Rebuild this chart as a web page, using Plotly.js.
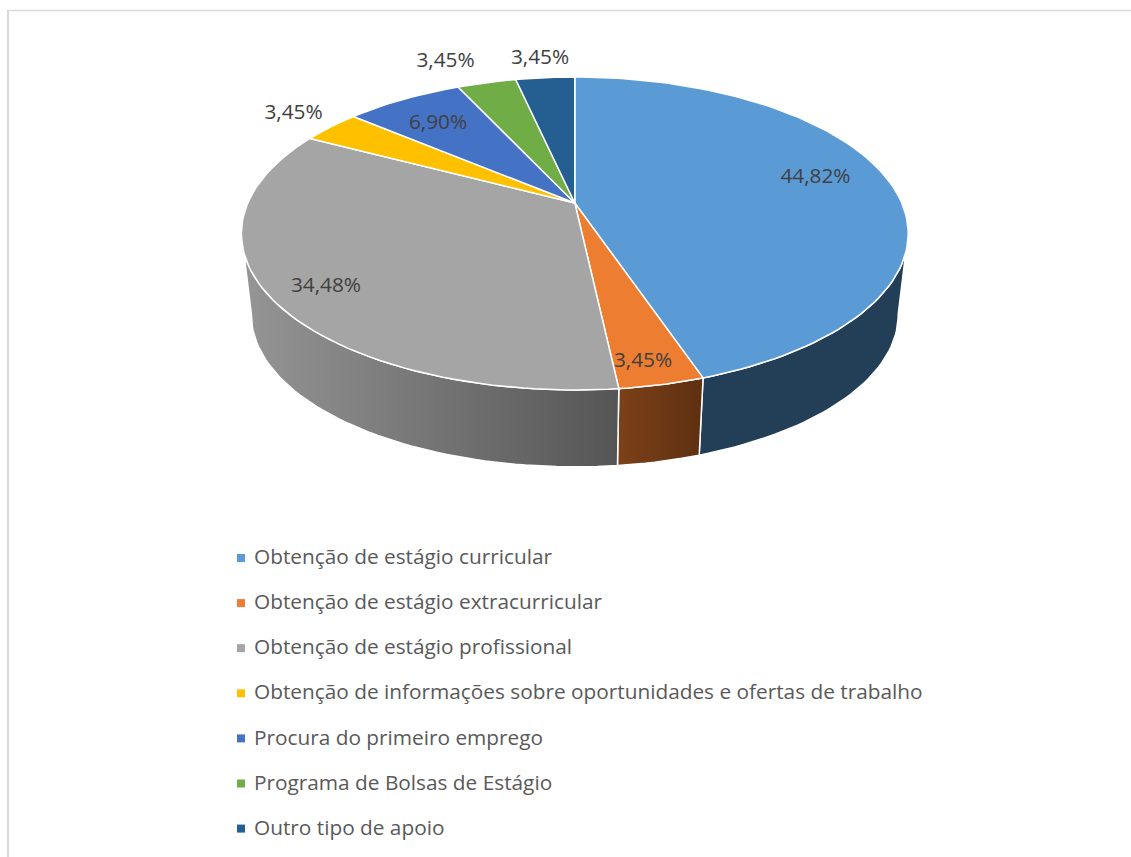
<!DOCTYPE html>
<html lang="pt">
<head>
<meta charset="utf-8">
<title>Tipos de apoio</title>
<script src="https://cdn.plot.ly/plotly-3.0.1.min.js"></script>
<style>html,body{margin:0;padding:0;background:#fff}#chart{width:1131px;height:857px}</style>
</head>
<body>
<div id="chart"></div>
<script>
// ---- data ----
const categories = [
  "Obtenção de estágio curricular",
  "Obtenção de estágio extracurricular",
  "Obtenção de estágio profissional",
  "Obtenção de informações sobre oportunidades e ofertas de trabalho",
  "Procura do primeiro emprego",
  "Programa de Bolsas de Estágio",
  "Outro tipo de apoio"
];
const values = [44.82, 3.45, 34.48, 3.45, 6.90, 3.45, 3.45];
const colors = ["#5B9BD5", "#ED7D31", "#A5A5A5", "#FFC000", "#4472C4", "#70AD47", "#255E91"];
const sideColorsLeft  = ["#233F57", "#7C4118", "#959595", "#000", "#000", "#000", "#000"];
const sideColorsRight = ["#233F57", "#5E3011", "#555555", "#000", "#000", "#000", "#000"];
const labelX = [815.5, 643, 326, 293.5, 438, 445.5, 540];
const labelY = [178, 362, 287, 114, 124, 62, 59];

// ---- perspective model of the disc, in page pixels ----
const CX = 574.8, CY = 203, RX = 327, RY = 150.5, P = 0.195;
const BOTTOM_CY = 285.5, BOTTOM_S = 0.97;
const TOP_VISIBLE = [108, 252], BOTTOM_VISIBLE = [101, 259];
const FONT = '"Open Sans", sans-serif';

function rim(deg, cy, s) {
  const a = deg * Math.PI / 180, X = Math.sin(a), Y = -Math.cos(a), f = s / (1 - P * Y);
  return [CX + RX * X * f, cy + RY * Y * f];
}
function arc(from, to, cy, s) {
  const pts = [], n = Math.max(2, Math.ceil(Math.abs(to - from) / 1.5));
  for (let i = 0; i <= n; i++) pts.push(rim(from + (to - from) * i / n, cy, s));
  return pts;
}

const total = values.reduce((a, b) => a + b, 0);
const starts = [];
values.reduce((acc, v, i) => { starts[i] = acc; return acc + v; }, 0);

const traces = [];
const WHITE = { color: "#ffffff", width: 1.5 };

// side walls
values.forEach((v, i) => {
  const a0 = starts[i] / total * 360, a1 = (starts[i] + v) / total * 360;
  const t0 = Math.max(a0, TOP_VISIBLE[0]), t1 = Math.min(a1, TOP_VISIBLE[1]);
  const b0 = Math.max(a0, BOTTOM_VISIBLE[0]), b1 = Math.min(a1, BOTTOM_VISIBLE[1]);
  if (t1 <= t0) return;
  const pts = arc(t0, t1, CY, 1).concat(arc(b1, b0, BOTTOM_CY, BOTTOM_S));
  pts.push(pts[0]);
  traces.push({
    type: "scatter", mode: "lines", fill: "toself", showlegend: false, hoverinfo: "skip",
    x: pts.map(p => p[0]), y: pts.map(p => p[1]),
    line: WHITE,
    fillcolor: sideColorsLeft[i],
    fillgradient: { type: "horizontal", colorscale: [[0, sideColorsLeft[i]], [1, sideColorsRight[i]]] }
  });
});

// top face
values.forEach((v, i) => {
  const a0 = starts[i] / total * 360, a1 = (starts[i] + v) / total * 360;
  const pts = [[CX, CY]].concat(arc(a0, a1, CY, 1));
  pts.push([CX, CY]);
  traces.push({
    type: "scatter", mode: "lines", fill: "toself", showlegend: false,
    name: categories[i], text: v.toFixed(2).replace(".", ",") + "%", hoverinfo: "name+text",
    x: pts.map(p => p[0]), y: pts.map(p => p[1]),
    line: WHITE, fillcolor: colors[i]
  });
});

// data labels
traces.push({
  type: "scatter", mode: "text", showlegend: false, hoverinfo: "skip",
  x: labelX, y: labelY,
  text: values.map(v => v.toFixed(2).replace(".", ",") + "%"),
  textposition: "middle center",
  textfont: { family: FONT, size: 20.8, color: "#404040" }
});

// legend
const LEG_X = 241, LEG_TEXT_X = 254, LEG_Y0 = 558, LEG_DY = 45.1;
categories.forEach((c, i) => {
  traces.push({
    type: "scatter", mode: "markers", showlegend: false, hoverinfo: "skip",
    x: [LEG_X], y: [LEG_Y0 + i * LEG_DY],
    marker: { symbol: "square", size: 8, color: colors[i] }
  });
  traces.push({
    type: "scatter", mode: "text", showlegend: false, hoverinfo: "skip",
    x: [LEG_TEXT_X], y: [LEG_Y0 + 1 + i * LEG_DY], text: [c],
    textposition: "middle right",
    textfont: { family: FONT, size: 20.8, color: "#595959" }
  });
});

const layout = {
  width: 1131, height: 857,
  margin: { l: 0, r: 0, t: 0, b: 0 },
  paper_bgcolor: "#ffffff", plot_bgcolor: "#ffffff",
  showlegend: false,
  xaxis: { range: [0, 1131], visible: false, fixedrange: true },
  yaxis: { range: [857, 0], visible: false, fixedrange: true },
  shapes: [
    { type: "line", xref: "x", yref: "y", x0: 8, x1: 8, y0: 10.5, y1: 857, line: { color: "#D9D9D9", width: 2 } },
    { type: "line", xref: "x", yref: "y", x0: 7, x1: 1131, y0: 10.5, y1: 10.5, line: { color: "#D9D9D9", width: 1.5 } }
  ]
};

Plotly.newPlot("chart", traces, layout, { displayModeBar: false, responsive: false });
</script>
</body>
</html>
